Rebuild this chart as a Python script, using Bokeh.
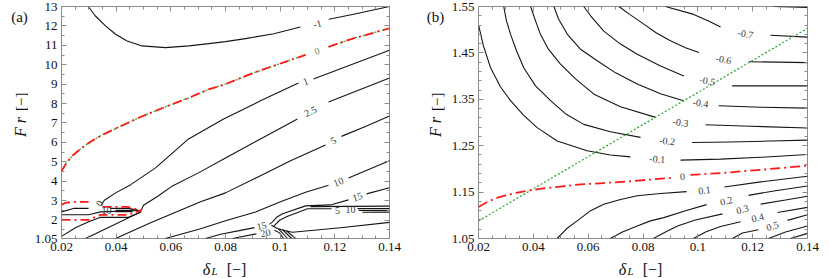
import numpy as np
from bokeh.plotting import figure
from bokeh.layouts import row, column
from bokeh.models import FixedTicker, LinearAxis, ColumnDataSource, Range1d
from bokeh.embed import file_html
from bokeh.resources import INLINE
from bokeh.core.properties import value

nan = float("nan")

# ---------------- ticks ----------------
x_ticks = [0.02, 0.04, 0.06, 0.08, 0.10, 0.12, 0.14]
x_tick_labels = ["0.02", "0.04", "0.06", "0.08", "0.1", "0.12", "0.14"]
x_minor_ticks = [0.025, 0.03, 0.035, 0.045, 0.05, 0.055, 0.065, 0.07, 0.075,
                 0.085, 0.09, 0.095, 0.105, 0.11, 0.115, 0.125, 0.13, 0.135]

a_y_ticks = [1.05, 2, 3, 4, 5, 6, 7, 8, 9, 10, 11, 12, 13]
a_y_tick_labels = ["1.05", "2", "3", "4", "5", "6", "7", "8", "9", "10", "11", "12", "13"]
a_y_minor_ticks = [1.5, 2.5, 3.5, 4.5, 5.5, 6.5, 7.5, 8.5, 9.5, 10.5, 11.5, 12.5]

b_y_ticks = [1.05, 1.15, 1.25, 1.35, 1.45, 1.55]
b_y_tick_labels = ["1.05", "1.15", "1.25", "1.35", "1.45", "1.55"]
b_y_minor_ticks = [1.07, 1.09, 1.11, 1.13, 1.17, 1.19, 1.21, 1.23, 1.27, 1.29,
                   1.31, 1.33, 1.37, 1.39, 1.41, 1.43, 1.47, 1.49, 1.51, 1.53]

# ---------------- panel (a) contours (delta_L, Fr) ----------------
a_m1_x = [0.0298, 0.0324, 0.0361, 0.0398, 0.0440, 0.0495, 0.0580, 0.0666, 0.0739, 0.0800, 0.0879, 0.0977, 0.1074, nan, 0.1178, 0.1269, 0.1400]
a_m1_y = [13.00, 12.51, 12.00, 11.57, 11.22, 10.97, 10.88, 10.97, 11.09, 11.19, 11.36, 11.60, 11.94, nan, 12.34, 12.60, 13.00]

a_zero_x = [0.0200, 0.0218, 0.0240, 0.0270, 0.0306, 0.0343, 0.0387, 0.0434, 0.0489, 0.0580, 0.0665, 0.0738, 0.0800, 0.0902, 0.1027, 0.1093, nan, 0.1177, 0.1257, 0.1400]
a_zero_y = [4.51, 4.95, 5.31, 5.67, 6.03, 6.34, 6.64, 6.95, 7.31, 7.83, 8.29, 8.73, 9.00, 9.58, 10.19, 10.51, nan, 10.92, 11.31, 11.88]

a_p1_x = [0.0346, 0.0357, 0.0398, 0.0452, 0.0544, 0.0665, 0.0793, 0.0928, 0.1067, nan, 0.1122, 0.1257, 0.1400]
a_p1_y = [2.78, 3.02, 3.40, 3.81, 4.69, 6.18, 7.21, 8.14, 9.06, nan, 9.27, 9.99, 10.75]

a_p25_x = [0.0288, 0.0387, 0.0489, 0.0500, 0.0555, 0.0606, 0.0701, 0.0800, 0.0928, 0.1063, nan, 0.1177, 0.1400]
a_p25_y = [1.05, 1.72, 2.42, 2.76, 3.25, 3.76, 4.43, 5.20, 6.18, 7.21, nan, 8.08, 9.32]

a_p5_x = [0.0398, 0.0526, 0.0709, 0.0800, 0.0928, 0.1038, 0.1166, nan, 0.1224, 0.1312, 0.1400]
a_p5_y = [1.05, 1.86, 2.94, 3.40, 4.28, 5.05, 5.87, nan, 6.31, 6.82, 7.36]

a_p10_x = [0.0580, 0.0709, 0.0800, 0.0910, 0.1001, 0.1093, 0.1177, nan, 0.1250, 0.1330, 0.1400]
a_p10_y = [1.05, 1.55, 1.96, 2.42, 2.94, 3.43, 3.79, nan, 4.17, 4.64, 5.05]

a_p15_x = [0.0727, 0.0782, 0.0855, 0.0906, nan, 0.0961, 0.0972, 0.0987, 0.1009, 0.1093, 0.1184, 0.1250, nan, 0.1316, 0.1400]
a_p15_y = [1.05, 1.27, 1.47, 1.61, nan, 1.78, 1.91, 2.14, 2.32, 2.73, 2.78, 3.04, nan, 3.35, 3.66]

a_p20_x = [0.0826, 0.0913, nan, 0.0979, 0.0998, 0.1012]
a_p20_y = [1.05, 1.29, nan, 1.47, 1.34, 1.05]

a_band_top_x = [0.1111, 0.1400]
a_band_top_y = [2.69, 2.72]
a_band_in_x = [0.0976, 0.0998, 0.1023, 0.1100, 0.1188]
a_band_in_y = [1.68, 1.99, 2.17, 2.58, 2.58]
a_band_r1_x = [0.1283, 0.1400]
a_band_r1_y = [2.59, 2.59]
a_band_r2_x = [0.1287, 0.1400]
a_band_r2_y = [2.49, 2.49]
a_band_r3_x = [0.1301, 0.1400]
a_band_r3_y = [2.40, 2.41]
a_band_low_x = [0.0968, 0.0990, 0.1020, 0.1045, 0.1221, 0.1400]
a_band_low_y = [1.73, 1.57, 1.45, 1.37, 1.60, 1.88]
a_steep1_x = [0.0994, 0.1027]
a_steep1_y = [1.55, 1.05]
a_steep2_x = [0.1009, 0.1042]
a_steep2_y = [1.50, 1.05]
a_steep3_x = [0.1023, 0.1056]
a_steep3_y = [1.45, 1.05]

a_lb_red_up_x = [0.0200, 0.0215, 0.0244, 0.0299]
a_lb_red_up_y = [2.78, 2.89, 2.94, 2.94]
a_lb_short_x = [0.0200, 0.0244, 0.0299]
a_lb_short_y = [2.42, 2.60, 2.60]
a_lb_mid_x = [0.0200, 0.0299, 0.0343, 0.0485]
a_lb_mid_y = [2.27, 2.27, 2.42, 2.49]
a_lb_red_low_x = [0.0200, 0.0299, 0.0343, 0.0441, 0.0493]
a_lb_red_low_y = [2.01, 2.01, 2.27, 2.27, 2.50]
a_lb_red_top_x = [0.0350, 0.0441, 0.0493]
a_lb_red_top_y = [2.68, 2.68, 2.50]
a_lb_inner_x = [0.0379, 0.0445, 0.0482]
a_lb_inner_y = [2.60, 2.60, 2.50]
a_lb_thick_x = [0.0398, 0.0460]
a_lb_thick_y = [2.47, 2.47]
a_lb_low_x = [0.0200, 0.0251, 0.0299, 0.0343, 0.0445, 0.0489]
a_lb_low_y = [1.16, 1.60, 1.91, 2.14, 2.14, 2.40]

a_lab_text = ["-1", "1", "2.5", "5", "10", "15", "5", "10", "15", "20", "0", "10"]
a_lab_x = [0.1136, 0.1093, 0.1111, 0.1195, 0.1213, 0.1283, 0.1210, 0.1257, 0.0932, 0.0946, 0.0339, 0.0365]
a_lab_y = [12.11, 9.15, 7.60, 6.10, 3.97, 3.20, 2.50, 2.52, 1.70, 1.34, 2.86, 2.47]
a_lab_angle = [16, 21, 25, 27, 22, 18, 0, 0, 12, 12, 60, 0]
a_zero_lab_x = [0.1135]
a_zero_lab_y = [10.71]

# ---------------- panel (b) contours ----------------
b_c1_x = [0.0201, 0.0218, 0.0244, 0.0280, 0.0317, 0.0364, 0.0414, 0.0487, 0.0596, 0.0681, 0.0754, nan, 0.0937, 0.1083, 0.1229, 0.1400]
b_c1_y = [1.508, 1.465, 1.418, 1.377, 1.347, 1.316, 1.289, 1.260, 1.239, 1.230, 1.226, nan, 1.219, 1.221, 1.225, 1.231]
b_c2_x = [0.0292, 0.0302, 0.0317, 0.0339, 0.0365, 0.0408, 0.0463, 0.0517, 0.0584, 0.0681, 0.0791, nan, 0.0979, 0.1119, 0.1265, 0.1400]
b_c2_y = [1.550, 1.519, 1.490, 1.454, 1.418, 1.379, 1.347, 1.319, 1.296, 1.280, 1.268, nan, 1.257, 1.258, 1.260, 1.262]
b_c3_x = [0.0390, 0.0408, 0.0426, 0.0455, 0.0499, 0.0554, 0.0621, 0.0718, 0.0846, nan, 0.1028, 0.1192, 0.1400]
b_c3_y = [1.550, 1.519, 1.490, 1.458, 1.426, 1.394, 1.361, 1.334, 1.311, nan, 1.295, 1.292, 1.288]
b_c4_x = [0.0475, 0.0492, 0.0524, 0.0572, 0.0633, 0.0700, 0.0779, 0.0864, 0.0948, nan, 0.1076, 0.1229, 0.1400]
b_c4_y = [1.550, 1.523, 1.490, 1.458, 1.433, 1.407, 1.383, 1.362, 1.347, nan, 1.336, 1.333, 1.331]
b_c5_x = [0.0584, 0.0609, 0.0657, 0.0718, 0.0779, 0.0864, 0.0949, nan, 0.1125, 0.1265, 0.1400]
b_c5_y = [1.550, 1.530, 1.497, 1.469, 1.447, 1.422, 1.400, nan, 1.379, 1.379, 1.379]
b_c6_x = [0.0712, 0.0754, 0.0803, 0.0849, 0.0900, 0.0955, 0.1004, nan, 0.1186, 0.1400]
b_c6_y = [1.550, 1.532, 1.512, 1.493, 1.476, 1.461, 1.451, nan, 1.431, 1.429]
b_c7_x = [0.0882, 0.0985, 0.1039, 0.1083, nan, 0.1265, 0.1400]
b_c7_y = [1.550, 1.533, 1.519, 1.506, nan, 1.488, 1.484]
b_c8_x = [0.1277, 0.1338, 0.1400]
b_c8_y = [1.550, 1.549, 1.548]

b_zero_x = [0.0200, 0.0233, 0.0269, 0.0306, 0.0342, 0.0390, 0.0437, 0.0499, 0.0561, 0.0645, 0.0743, 0.0827, 0.0911, nan, 0.0973, 0.1083, 0.1229, 0.1400]
b_zero_y = [1.118, 1.129, 1.138, 1.144, 1.149, 1.154, 1.158, 1.162, 1.166, 1.169, 1.173, 1.177, 1.181, nan, 1.187, 1.191, 1.198, 1.207]

b_d1_x = [0.0487, 0.0521, 0.0560, 0.0609, 0.0657, 0.0718, 0.0779, 0.0864, 0.0959, nan, 0.1097, 0.1229, 0.1400]
b_d1_y = [1.050, 1.071, 1.088, 1.110, 1.124, 1.134, 1.142, 1.147, 1.151, nan, 1.161, 1.172, 1.184]
b_d2_x = [0.0681, 0.0725, 0.0779, 0.0827, 0.0876, 0.0955, 0.1032, nan, 0.1185, 0.1283, 0.1400]
b_d2_y = [1.050, 1.064, 1.077, 1.088, 1.095, 1.110, 1.123, nan, 1.143, 1.153, 1.163]
b_d3_x = [0.0838, 0.0882, 0.0926, 0.0991, 0.1090, nan, 0.1229, 0.1320, 0.1400]
b_d3_y = [1.050, 1.064, 1.077, 1.090, 1.103, nan, 1.124, 1.133, 1.141]
b_d4_x = [0.0984, 0.1028, 0.1083, 0.1156, nan, 0.1291, 0.1400]
b_d4_y = [1.050, 1.064, 1.076, 1.086, nan, 1.106, 1.117]
b_d5_x = [0.1126, 0.1163, 0.1221, nan, 0.1327, 0.1400]
b_d5_y = [1.050, 1.062, 1.069, nan, 1.089, 1.101]
b_d6_x = [0.1258, 0.1320, 0.1400]
b_d6_y = [1.050, 1.064, 1.077]
b_d7_x = [0.1338, 0.1400]
b_d7_y = [1.050, 1.061]

b_green_x = [0.02, 0.14]
b_green_y = [1.088, 1.503]

b_lab_text = ["-0.7", "-0.6", "-0.5", "-0.4", "-0.3", "-0.2", "-0.1", "0", "0.1", "0.2", "0.3", "0.4", "0.5"]
b_lab_x = [0.1174, 0.1094, 0.1035, 0.1010, 0.0937, 0.0888, 0.0852, 0.0944, 0.1024, 0.1104, 0.1163, 0.1218, 0.1272]
b_lab_y = [1.491, 1.436, 1.390, 1.342, 1.300, 1.260, 1.221, 1.184, 1.154, 1.131, 1.113, 1.095, 1.077]
b_lab_angle = [-9, -10, -11, -8, -8, -6, -4, 5, 7, 13, 14, 15, 17]

# ---------------- styling ----------------
SERIF = "Liberation Serif"
FRAME = "#8c8c8c"
TXT = "#111111"
TOP, BOTTOM = 6, 20
FW_A, FW_B, FH = 328, 329, 232
PH = TOP + FH + BOTTOM        # 258
XH = 20                       # height of the row holding the x titles
BLACK = "#151515"
RED = "#ff1a1a"
GREEN = "#3aa83a"
LABEL_COLOR = "#3a3a3a"


def style_axis(ax, ticks, minor, labels, show):
    ax.ticker = FixedTicker(ticks=ticks, minor_ticks=minor)
    if show:
        ax.major_label_overrides = {t: l for t, l in zip(ticks, labels)}
        ax.major_label_text_font = SERIF
        ax.major_label_text_font_size = "13px"
        ax.major_label_text_color = TXT
        ax.major_label_standoff = 4
    else:
        ax.major_label_overrides = {t: "" for t in ticks}
        ax.major_label_text_font_size = "1px"
        ax.major_label_standoff = 0
    ax.major_tick_in = 5
    ax.major_tick_out = 0
    ax.minor_tick_in = 3
    ax.minor_tick_out = 0
    ax.axis_line_color = None
    ax.major_tick_line_color = FRAME
    ax.minor_tick_line_color = FRAME


def make_fig(fw, yr, yt, ytl, ymin, bl, br):
    p = figure(frame_width=fw, frame_height=FH, x_range=Range1d(0.02, 0.14), y_range=Range1d(*yr),
               output_backend="svg", toolbar_location=None,
               min_border_left=bl, min_border_right=br,
               min_border_top=TOP, min_border_bottom=BOTTOM)
    p.grid.visible = False
    p.outline_line_color = FRAME
    p.outline_line_width = 1
    style_axis(p.below[0], x_ticks, x_minor_ticks, x_tick_labels, True)
    style_axis(p.left[0], yt, ymin, ytl, True)
    top = LinearAxis()
    style_axis(top, x_ticks, x_minor_ticks, x_tick_labels, False)
    p.add_layout(top, "above")
    right = LinearAxis()
    style_axis(right, yt, ymin, ytl, False)
    p.add_layout(right, "right")
    return p


def text_fig(w, h):
    f = figure(width=w, height=h, x_range=Range1d(0, w), y_range=Range1d(0, h),
               x_axis_type=None, y_axis_type=None, output_backend="svg",
               toolbar_location=None, min_border=0)
    f.grid.visible = False
    f.outline_line_color = None
    return f


def put_text(f, x, y, t, size, style="normal", angle=0.0, baseline="middle"):
    f.text(x=[x], y=[y], text=[t], angle=angle, text_font=value(SERIF),
           text_font_style=style, text_font_size=size, text_color=TXT,
           text_align="center", text_baseline=baseline)


def line(p, xs, ys, color=BLACK, width=1.1, dash="solid"):
    p.line(np.array(xs, dtype=float), np.array(ys, dtype=float),
           line_color=color, line_width=width, line_dash=dash, line_join="round")


def contour_labels(p, xs, ys, texts, angles, color=LABEL_COLOR):
    src = ColumnDataSource(dict(x=xs, y=ys, text=texts, angle=[np.deg2rad(a) for a in angles]))
    p.text(x="x", y="y", text="text", angle="angle", source=src,
           text_font=value(SERIF), text_font_size="10px", text_color=color,
           text_align="center", text_baseline="middle")


# ---------------- panel (a) ----------------
pa = make_fig(FW_A, (1.05, 13), a_y_ticks, a_y_tick_labels, a_y_minor_ticks, 33, 37)
for xs, ys in [(a_m1_x, a_m1_y), (a_p1_x, a_p1_y), (a_p25_x, a_p25_y), (a_p5_x, a_p5_y),
               (a_p10_x, a_p10_y), (a_p15_x, a_p15_y), (a_p20_x, a_p20_y),
               (a_band_top_x, a_band_top_y), (a_band_in_x, a_band_in_y),
               (a_band_r1_x, a_band_r1_y), (a_band_r2_x, a_band_r2_y), (a_band_r3_x, a_band_r3_y),
               (a_band_low_x, a_band_low_y), (a_steep1_x, a_steep1_y), (a_steep2_x, a_steep2_y),
               (a_steep3_x, a_steep3_y), (a_lb_short_x, a_lb_short_y), (a_lb_mid_x, a_lb_mid_y),
               (a_lb_inner_x, a_lb_inner_y), (a_lb_low_x, a_lb_low_y)]:
    line(pa, xs, ys)
line(pa, a_lb_thick_x, a_lb_thick_y, width=2.6)
line(pa, a_zero_x, a_zero_y, color=GREEN, width=1.3, dash="2 2")
line(pa, a_zero_x, a_zero_y, color=RED, width=1.8, dash="9 4 2 4")
for xs, ys in [(a_lb_red_up_x, a_lb_red_up_y), (a_lb_red_low_x, a_lb_red_low_y),
               (a_lb_red_top_x, a_lb_red_top_y)]:
    line(pa, xs, ys, color=RED, width=1.8, dash="9 4 2 4")
contour_labels(pa, a_lab_x, a_lab_y, a_lab_text, a_lab_angle)
contour_labels(pa, a_zero_lab_x, a_zero_lab_y, ["0"], [19], color="#6f8f62")

# ---------------- panel (b) ----------------
pb = make_fig(FW_B, (1.05, 1.55), b_y_ticks, b_y_tick_labels, b_y_minor_ticks, 33, 23)
for xs, ys in [(b_c1_x, b_c1_y), (b_c2_x, b_c2_y), (b_c3_x, b_c3_y), (b_c4_x, b_c4_y),
               (b_c5_x, b_c5_y), (b_c6_x, b_c6_y), (b_c7_x, b_c7_y), (b_c8_x, b_c8_y),
               (b_d1_x, b_d1_y), (b_d2_x, b_d2_y), (b_d3_x, b_d3_y), (b_d4_x, b_d4_y),
               (b_d5_x, b_d5_y), (b_d6_x, b_d6_y), (b_d7_x, b_d7_y)]:
    line(pb, xs, ys)
line(pb, b_green_x, b_green_y, color=GREEN, width=1.3, dash="2 2")
line(pb, b_zero_x, b_zero_y, color=RED, width=1.8, dash="10 4 2 4")
contour_labels(pb, b_lab_x, b_lab_y, b_lab_text, b_lab_angle)

# ---------------- titles (own small text figures) ----------------
YA_W, YB_W = 28, 19
ya = text_fig(YA_W, PH)
put_text(ya, 19, PH - 12, "(a)", "15px")
put_text(ya, 20, PH - 134, "F r", "16px", style="italic", angle=np.pi / 2)
put_text(ya, 20, PH - 106, "[\u2212]", "15px", angle=np.pi / 2)

yb = text_fig(YB_W, PH)
put_text(yb, 9, PH - 12, "(b)", "15px")
put_text(yb, 9, PH - 134, "F r", "16px", style="italic", angle=np.pi / 2)
put_text(yb, 10, PH - 106, "[\u2212]", "15px", angle=np.pi / 2)

XA_W = YA_W + 33 + FW_A + 37
XB_W = YB_W + 33 + FW_B + 23
xa = text_fig(XA_W, XH)
put_text(xa, 206, 9.5, "\u03b4", "16px", style="italic", baseline="alphabetic")
put_text(xa, 214, 7.5, "L", "11px", style="italic", baseline="alphabetic")
put_text(xa, 236, 9.5, "[\u2212]", "16px", baseline="alphabetic")

xb = text_fig(XB_W, XH)
put_text(xb, 196, 9.5, "\u03b4", "16px", style="italic", baseline="alphabetic")
put_text(xb, 204, 7.5, "L", "11px", style="italic", baseline="alphabetic")
put_text(xb, 226, 9.5, "[\u2212]", "16px", baseline="alphabetic")

layout = column(row(ya, pa, yb, pb), row(xa, xb))
open("out.html", "w").write(file_html(layout, INLINE))
